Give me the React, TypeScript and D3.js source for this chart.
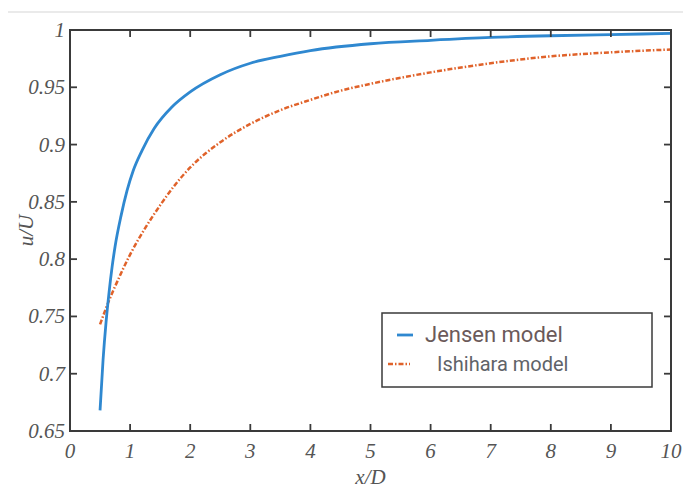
import React from "react";
import * as d3 from "d3";

// Jensen model (solid blue)
const jensenX = [0.5, 0.55, 0.6, 0.65, 0.7, 0.75, 0.85, 0.95, 1.05, 1.2, 1.4, 1.7, 2, 2.5, 3, 3.5, 4, 5, 6, 7, 8, 9, 10];
const jensenY = [0.668, 0.712, 0.745, 0.771, 0.793, 0.811, 0.838, 0.86, 0.877, 0.895, 0.914, 0.933, 0.946, 0.961, 0.971, 0.977, 0.982, 0.988, 0.991, 0.9935, 0.995, 0.996, 0.997];

// Ishihara model (dash-dot orange)
const ishiharaX = [0.5, 0.65, 0.8, 1, 1.25, 1.5, 1.75, 2, 2.5, 3, 3.5, 4, 4.5, 5, 6, 7, 8, 9, 10];
const ishiharaY = [0.743, 0.764, 0.782, 0.804, 0.827, 0.847, 0.865, 0.88, 0.902, 0.918, 0.93, 0.939, 0.947, 0.953, 0.963, 0.971, 0.977, 0.9805, 0.983];

const xTicks = [0, 1, 2, 3, 4, 5, 6, 7, 8, 9, 10];
const yTicks = [0.65, 0.7, 0.75, 0.8, 0.85, 0.9, 0.95, 1];

const W = 683;
const H = 491;
const left = 70;
const right = 671;
const top = 30;
const bottom = 431;

const App = () => {
  const x = d3.scaleLinear().domain([0, 10]).range([left, right]);
  const y = d3.scaleLinear().domain([0.65, 1]).range([bottom, top]);

  const line = d3
    .line<[number, number]>()
    .curve(d3.curveMonotoneX)
    .x((d) => x(d[0]))
    .y((d) => y(d[1]));

  const jensen = jensenX.map((v, i) => [v, jensenY[i]] as [number, number]);
  const ishihara = ishiharaX.map((v, i) => [v, ishiharaY[i]] as [number, number]);

  const axisColor = "#3a3a3a";
  const labelColor = "#555";
  const tickLen = 7;
  const serif = "Liberation Serif, Times New Roman, serif";

  return (
    <svg
      width={W}
      height={H}
      style={{ position: "absolute", left: 0, top: 0, background: "#fff" }}
    >
      {/* faint rule at the top */}
      <line x1={8} x2={W} y1={12} y2={12} stroke="#e3e3e3" strokeWidth={1.5} />

      {/* curves */}
      <path d={line(ishihara) || ""} fill="none" stroke="#e0622a" strokeWidth={2.5} strokeDasharray="5,2,1.5,2" />
      <path d={line(jensen) || ""} fill="none" stroke="#2f88d0" strokeWidth={2.8} />

      {/* frame */}
      <rect x={left} y={top} width={right - left} height={bottom - top} fill="none" stroke={axisColor} strokeWidth={2} />

      {/* x ticks */}
      {xTicks.map((t) => (
        <g key={"x" + t}>
          <line x1={x(t)} x2={x(t)} y1={bottom} y2={bottom - tickLen} stroke={axisColor} strokeWidth={1.8} />
          <line x1={x(t)} x2={x(t)} y1={top} y2={top + tickLen} stroke={axisColor} strokeWidth={1.8} />
          <text x={x(t)} y={bottom + 27} textAnchor="middle" fontFamily={serif} fontStyle="italic" fontSize={21} fill={labelColor}>
            {t}
          </text>
        </g>
      ))}

      {/* y ticks */}
      {yTicks.map((t) => (
        <g key={"y" + t}>
          <line x1={left} x2={left + tickLen} y1={y(t)} y2={y(t)} stroke={axisColor} strokeWidth={1.8} />
          <line x1={right} x2={right - tickLen} y1={y(t)} y2={y(t)} stroke={axisColor} strokeWidth={1.8} />
          <text x={left - 5} y={y(t) + 7} textAnchor="end" fontFamily={serif} fontStyle="italic" fontSize={21} fill={labelColor}>
            {t}
          </text>
        </g>
      ))}

      {/* axis titles */}
      <text x={(left + right) / 2} y={484} textAnchor="middle" fontFamily={serif} fontStyle="italic" fontSize={21} fill={labelColor}>
        x/D
      </text>
      <text
        transform={`translate(33, ${(top + bottom) / 2}) rotate(-90)`}
        textAnchor="middle"
        fontFamily={serif}
        fontStyle="italic"
        fontSize={21}
        fill={labelColor}
      >
        u/U
      </text>

      {/* legend */}
      <rect x={382} y={313} width={270} height={74} fill="#fff" stroke={axisColor} strokeWidth={1.5} />
      <line x1={397} x2={413} y1={335} y2={335} stroke="#2f88d0" strokeWidth={2.8} />
      <text x={425} y={342} fontFamily="Roboto, sans-serif" fontSize={22} fill="#6b5a5a">
        Jensen model
      </text>
      <line x1={388} x2={410} y1={364} y2={364} stroke="#e0622a" strokeWidth={2.5} strokeDasharray="5,2,1.5,2" />
      <text x={437} y={371} fontFamily="Roboto, sans-serif" fontSize={20} fill="#5f6368">
        Ishihara model
      </text>
    </svg>
  );
};

export default App;
